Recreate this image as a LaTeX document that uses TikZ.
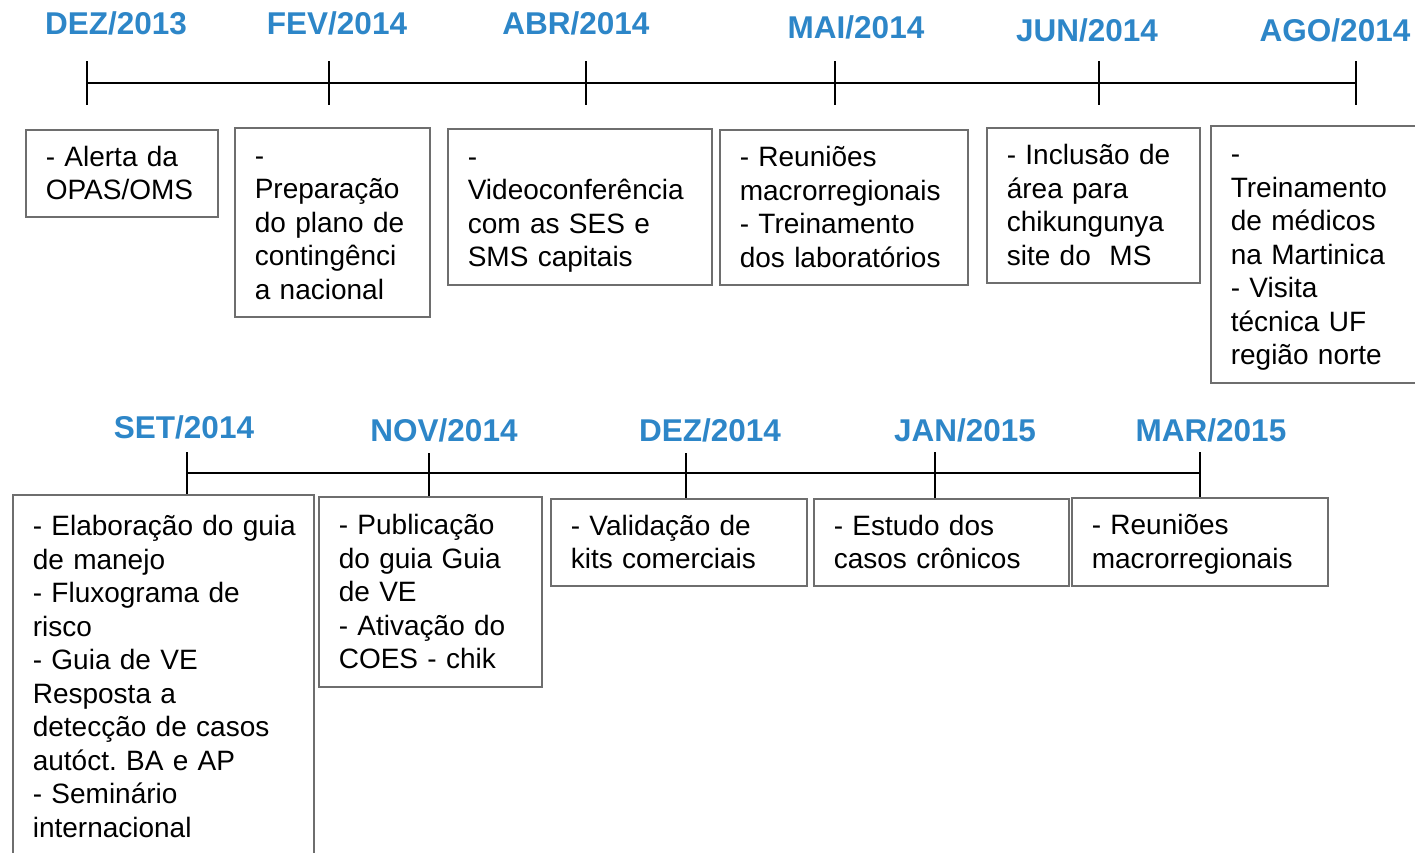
\documentclass[tikz,border=0pt]{standalone}
\usepackage{fontspec}
\setmainfont{Liberation Sans}
\frenchspacing
\hyphenpenalty=10000
\exhyphenpenalty=10000
\definecolor{dateblue}{RGB}{45,134,200}
\definecolor{boxgray}{RGB}{110,110,110}
\tikzset{
  datelbl/.style={font=\fontsize{31.5}{36}\selectfont\bfseries, text=dateblue, inner sep=0pt},
  evbox/.style={draw=boxgray, line width=1.6pt, anchor=north west, inner xsep=0pt, inner ysep=0pt,
    align=left, font=\fontsize{28}{33.5}\selectfont,
    execute at begin node=\rule{0pt}{26.5pt}, execute at end node=\rule[-7pt]{0pt}{7pt}},
  tl/.style={line width=1.8pt, black},
}
\newcommand{\evb}[7]{% name, x, y, w, h, textwidth, text
  \node[evbox, minimum width=#4pt, minimum height=#5pt, text width=#6pt] (#1) at (#2,#3) {#7};}
\begin{document}
\begin{tikzpicture}[x=1pt,y=-1pt]
\useasboundingbox (0,0) rectangle (1415,852);
\clip (0,0) rectangle (1415,852);
\fill[white] (0,0) rectangle (1415,852);

% ---- top timeline ----
\coordinate (t1) at (87,83);
\coordinate (t2) at (329,83);
\coordinate (t3) at (586,83);
\coordinate (t4) at (835,83);
\coordinate (t5) at (1099,83);
\coordinate (t6) at (1356,83);
\draw[tl] (t1) -- (t6);
\foreach \c in {t1,t2,t3,t4,t5,t6}{
  \draw[tl] ([yshift=22pt]\c) -- ([yshift=-22pt]\c);
}

\node[datelbl] (d1) at (116,23) {DEZ/2013};
\node[datelbl] (d2) at (337,23) {FEV/2014};
\node[datelbl] (d3) at (576,23) {ABR/2014};
\node[datelbl] (d4) at (856,27) {MAI/2014};
\node[datelbl] (d5) at (1087,30) {JUN/2014};
\node[datelbl] (d6) at (1335,30) {AGO/2014};

\evb{b1}{25}{129}{192}{87}{152}{- Alerta da\\OPAS/OMS}
\evb{b2}{234}{127}{195}{189}{155}{-\\Preparação\\do plano de\\contingênci\\a nacional}
\evb{b3}{447}{128}{264}{156}{224}{-\\Videoconferência\\com as SES e\\SMS capitais}
\evb{b4}{719}{129}{248}{155}{208}{- Reuniões\\macrorregionais\\- Treinamento\\dos laboratórios}
\evb{b5}{986}{127}{213}{155}{173}{- Inclusão de\\área para\\chikungunya\\site do\ \ MS}
\evb{b6}{1210}{125}{210}{257}{170}{-\\Treinamento\\de médicos\\na Martinica\\- Visita\\técnica UF\\região norte}

% ---- bottom timeline ----
\node[datelbl] (d7) at (184,427) {SET/2014};
\node[datelbl] (d8) at (444,430) {NOV/2014};
\node[datelbl] (d9) at (710,430) {DEZ/2014};
\node[datelbl] (d10) at (965,430) {JAN/2015};
\node[datelbl] (d11) at (1211,430) {MAR/2015};

\evb{c1}{12}{494}{301}{364}{261}{\mbox{- Elaboração do guia}\\de manejo\\- Fluxograma de\\risco\\- Guia de VE\\Resposta a\\\mbox{detecção de casos}\\autóct. BA e AP\\- Seminário\\internacional}
\evb{c2}{318}{496}{223}{190}{183}{- Publicação\\do guia Guia\\de VE\\- Ativação do\\COES - chik}
\evb{c3}{550}{498}{256}{87}{216}{- Validação de\\kits comerciais}
\evb{c4}{813}{498}{255}{87}{215}{- Estudo dos\\casos crônicos}
\evb{c5}{1071}{497}{256}{88}{216}{- Reuniões\\macrorregionais}

\coordinate (s1) at (187,473);
\coordinate (s2) at (429,473);
\coordinate (s3) at (686,473);
\coordinate (s4) at (935,473);
\coordinate (s5) at (1200,473);
\draw[tl] (s1) -- (s5);
\draw[tl] ([yshift=21pt]s1) -- (s1 |- c1.north);
\draw[tl] ([yshift=20pt]s2) -- (s2 |- c2.north);
\draw[tl] ([yshift=20pt]s3) -- (s3 |- c3.north);
\draw[tl] ([yshift=21pt]s4) -- (s4 |- c4.north);
\draw[tl] ([yshift=21pt]s5) -- (s5 |- c5.north);
\end{tikzpicture}
\end{document}
